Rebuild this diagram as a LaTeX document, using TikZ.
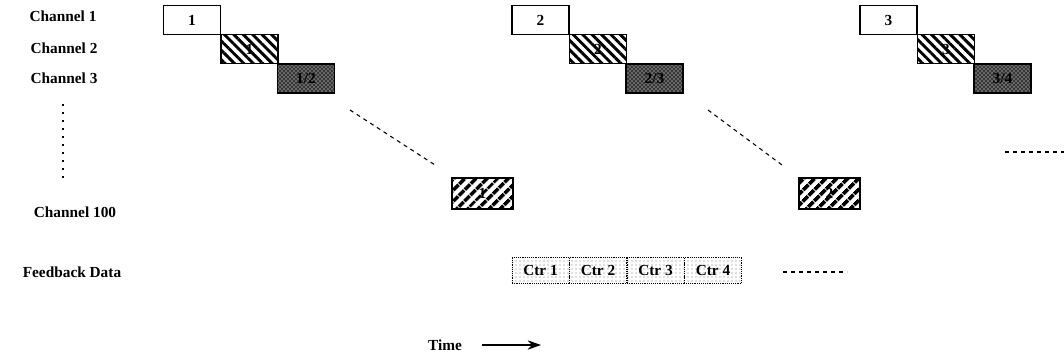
\documentclass[tikz,border=0pt]{standalone}
\usepackage{fontspec}
\setmainfont{Liberation Serif}
\usetikzlibrary{patterns,patterns.meta,arrows.meta}

\tikzset{
  slot/.style={draw, line width=1.1pt, minimum width=42.75pt, minimum height=21.75pt, inner sep=0pt, font=\fontsize{11.5}{13}\selectfont\bfseries},
  chone/.style={slot, fill=white},
  chtwo/.style={slot, pattern={Lines[angle=-45,distance=5pt,line width=2.2pt]}},
  chthree/.style={slot, line width=1.4pt, preaction={fill=black!78}, pattern=crosshatch dots, pattern color=white},
  chlast/.style={slot, line width=1.5pt, minimum width=45.75pt, minimum height=23.25pt, pattern={Lines[angle=45,distance=6.4pt,line width=3.2pt]}},
  fbslot/.style={draw, densely dotted, minimum width=43.1pt, minimum height=19.5pt, inner sep=0pt, pattern=dots, pattern color=black!55, font=\fontsize{11.5}{13}\selectfont\bfseries},
  chlabel/.style={font=\fontsize{11.5}{13}\selectfont\bfseries},
  gap/.style={line width=0.8pt, dash pattern=on 3pt off 3pt}
}

\begin{document}
\begin{tikzpicture}[x=0.75pt, y=-0.75pt]
\useasboundingbox (0,0) rectangle (1064,357);

% channel names on the left
\node[chlabel] (lab1) at (63,16) {Channel 1};
\node[chlabel] (lab2) at (64,48) {Channel 2};
\node[chlabel] (lab3) at (64,78) {Channel 3};
\node[chlabel] (lab100) at (75,212) {Channel 100};
\node[chlabel] (labfb) at (72,272) {Feedback Data};
\coordinate (vtop) at (63,104);
\coordinate (vbot) at (63,180);
\draw[line width=0.9pt, dash pattern=on 1.5pt off 4.5pt] (vtop) -- (vbot);

% one frame per group: channels 1, 2, 3 stepping down
\foreach \g/\x in {1/0, 2/348.5, 3/696.5} {
  \pgfmathtruncatemacro{\nx}{\g+1}
  \begin{scope}[shift={(\x,0)}]
    \node[chone] (c1-\g) at (192,20) {\g};
    \node[chtwo] (c2-\g) at (249.5,49) {\g};
    \node[chthree] (c3-\g) at (306,78.5) {\g/\nx};
  \end{scope}
}

% channel 100 slots
\node[chlast] (c100-1) at (482.5,193.5) {1};
\node[chlast] (c100-2) at (829.5,193.5) {2};

% skipped channels
\coordinate (ga1) at (350,110);
\coordinate (gb1) at (435,165);
\coordinate (ga2) at (708,110);
\coordinate (gb2) at (782,165);
\coordinate (ga3) at (1005,152);
\coordinate (gb3) at (1064,152);
\foreach \i in {1,2,3} {
  \draw[gap] (ga\i) -- (gb\i);
}

% feedback slots
\foreach \i/\x in {1/540.5, 2/598, 3/655.5, 4/713} {
  \node[fbslot] (fb\i) at (\x,270) {Ctr \i};
}
\coordinate (fba) at (783,272);
\coordinate (fbb) at (847,272);
\draw[gap] (fba) -- (fbb);

% time axis
\node[chlabel] (time) at (445,345) {Time};
\coordinate (ta) at (482,345);
\coordinate (tb) at (541,345);
\draw[line width=1.2pt, -{Stealth[length=10pt,width=7pt]}] (ta) -- (tb);
\end{tikzpicture}
\end{document}
